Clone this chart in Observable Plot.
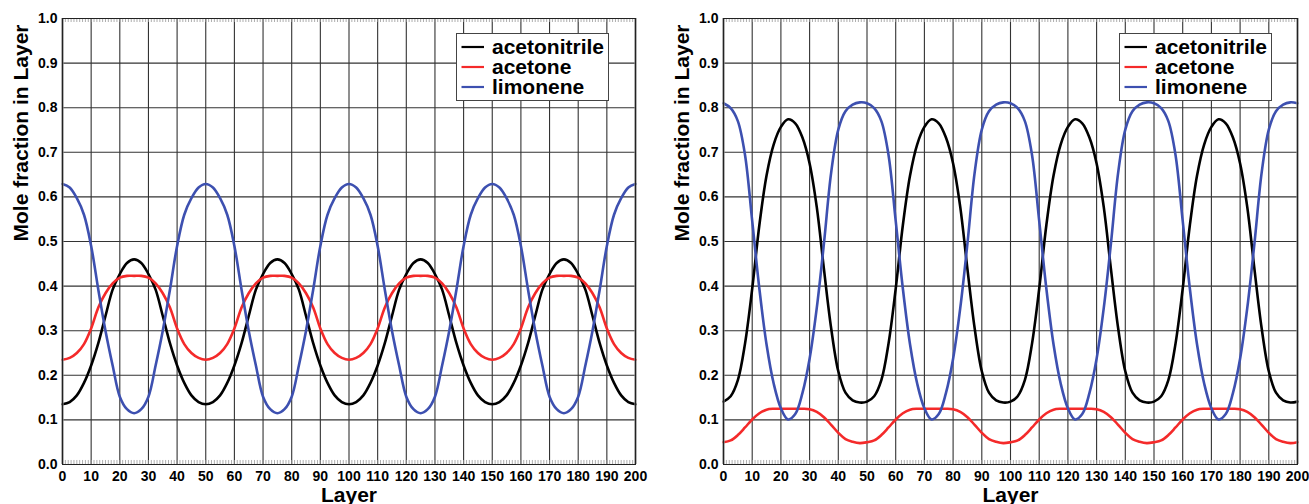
<!DOCTYPE html>
<html>
<head>
<meta charset="utf-8">
<script src="https://cdn.jsdelivr.net/npm/d3@7"></script>
<script src="https://cdn.jsdelivr.net/npm/@observablehq/plot@0.6"></script>
<style>
  html, body { margin: 0; padding: 0; background: white; }
  #wrap { position: relative; width: 1309px; height: 504px; overflow: hidden; }
  #wrap svg { position: absolute; top: 0; }
</style>
</head>
<body>
<div id="wrap"></div>
<script>
// ---- data ----
const layers = [0,2.5,5,7.5,10,12.5,15,17.5,20,22.5,25,27.5,30,32.5,35,37.5,40,42.5,45,47.5,
  50,52.5,55,57.5,60,62.5,65,67.5,70,72.5,75,77.5,80,82.5,85,87.5,90,92.5,95,97.5,
  100,102.5,105,107.5,110,112.5,115,117.5,120,122.5,125,127.5,130,132.5,135,137.5,140,142.5,145,147.5,
  150,152.5,155,157.5,160,162.5,165,167.5,170,172.5,175,177.5,180,182.5,185,187.5,190,192.5,195,197.5,200];

const xTicks = [0,10,20,30,40,50,60,70,80,90,100,110,120,130,140,150,160,170,180,190,200];
const yTicks = [0,0.1,0.2,0.3,0.4,0.5,0.6,0.7,0.8,0.9,1.0];
const seriesNames = ["acetonitrile", "acetone", "limonene"];
const seriesColors = ["#000000", "#f42a2a", "#3d50b0"];
const xLabel = "Layer";
const yLabel = "Mole fraction in Layer";

// left panel
const acetonitrileL = [0.135,0.140,0.155,0.183,0.222,0.272,0.333,0.392,0.427,0.452,0.460,0.452,0.427,0.392,0.333,0.272,0.222,0.183,0.155,0.140,
  0.135,0.140,0.155,0.183,0.222,0.272,0.333,0.392,0.427,0.452,0.460,0.452,0.427,0.392,0.333,0.272,0.222,0.183,0.155,0.140,
  0.135,0.140,0.155,0.183,0.222,0.272,0.333,0.392,0.427,0.452,0.460,0.452,0.427,0.392,0.333,0.272,0.222,0.183,0.155,0.140,
  0.135,0.140,0.155,0.183,0.222,0.272,0.333,0.392,0.427,0.452,0.460,0.452,0.427,0.392,0.333,0.272,0.222,0.183,0.155,0.140,
  0.135];
const acetoneL = [0.235,0.239,0.250,0.270,0.305,0.352,0.384,0.406,0.419,0.423,0.423,0.423,0.419,0.406,0.384,0.352,0.305,0.270,0.250,0.239,
  0.235,0.239,0.250,0.270,0.305,0.352,0.384,0.406,0.419,0.423,0.423,0.423,0.419,0.406,0.384,0.352,0.305,0.270,0.250,0.239,
  0.235,0.239,0.250,0.270,0.305,0.352,0.384,0.406,0.419,0.423,0.423,0.423,0.419,0.406,0.384,0.352,0.305,0.270,0.250,0.239,
  0.235,0.239,0.250,0.270,0.305,0.352,0.384,0.406,0.419,0.423,0.423,0.423,0.419,0.406,0.384,0.352,0.305,0.270,0.250,0.239,
  0.235];
const limoneneL = [0.629,0.621,0.597,0.560,0.490,0.392,0.300,0.222,0.152,0.124,0.115,0.124,0.152,0.222,0.300,0.392,0.490,0.560,0.597,0.621,
  0.629,0.621,0.597,0.560,0.490,0.392,0.300,0.222,0.152,0.124,0.115,0.124,0.152,0.222,0.300,0.392,0.490,0.560,0.597,0.621,
  0.629,0.621,0.597,0.560,0.490,0.392,0.300,0.222,0.152,0.124,0.115,0.124,0.152,0.222,0.300,0.392,0.490,0.560,0.597,0.621,
  0.629,0.621,0.597,0.560,0.490,0.392,0.300,0.222,0.152,0.124,0.115,0.124,0.152,0.222,0.300,0.392,0.490,0.560,0.597,0.621,
  0.629];

// right panel
const acetonitrileR = [0.141,0.153,0.189,0.271,0.394,0.537,0.648,0.718,0.757,0.774,0.765,0.733,0.675,0.577,0.438,0.306,0.209,0.161,0.144,0.139,
  0.141,0.153,0.189,0.271,0.394,0.537,0.648,0.718,0.757,0.774,0.765,0.733,0.675,0.577,0.438,0.306,0.209,0.161,0.144,0.139,
  0.141,0.153,0.189,0.271,0.394,0.537,0.648,0.718,0.757,0.774,0.765,0.733,0.675,0.577,0.438,0.306,0.209,0.161,0.144,0.139,
  0.141,0.153,0.189,0.271,0.394,0.537,0.648,0.718,0.757,0.774,0.765,0.733,0.675,0.577,0.438,0.306,0.209,0.161,0.144,0.139,
  0.141];
const acetoneR = [0.050,0.054,0.066,0.083,0.101,0.115,0.123,0.125,0.125,0.125,0.125,0.125,0.124,0.118,0.106,0.089,0.071,0.057,0.051,0.048,
  0.050,0.054,0.066,0.083,0.101,0.115,0.123,0.125,0.125,0.125,0.125,0.125,0.124,0.118,0.106,0.089,0.071,0.057,0.051,0.048,
  0.050,0.054,0.066,0.083,0.101,0.115,0.123,0.125,0.125,0.125,0.125,0.125,0.124,0.118,0.106,0.089,0.071,0.057,0.051,0.048,
  0.050,0.054,0.066,0.083,0.101,0.115,0.123,0.125,0.125,0.125,0.125,0.125,0.124,0.118,0.106,0.089,0.071,0.057,0.051,0.048,
  0.050];
const limoneneR = [0.810,0.799,0.770,0.694,0.546,0.394,0.269,0.181,0.126,0.101,0.113,0.160,0.237,0.351,0.496,0.654,0.751,0.792,0.807,0.812,
  0.810,0.799,0.770,0.694,0.546,0.394,0.269,0.181,0.126,0.101,0.113,0.160,0.237,0.351,0.496,0.654,0.751,0.792,0.807,0.812,
  0.810,0.799,0.770,0.694,0.546,0.394,0.269,0.181,0.126,0.101,0.113,0.160,0.237,0.351,0.496,0.654,0.751,0.792,0.807,0.812,
  0.810,0.799,0.770,0.694,0.546,0.394,0.269,0.181,0.126,0.101,0.113,0.160,0.237,0.351,0.496,0.654,0.751,0.792,0.807,0.812,
  0.810];

const minorTicks = d3.range(0, 201, 1);

function chart(series, width, ml, mr) {
  const rows = layers.map((L, i) => ({L, v0: series[0][i], v1: series[1][i], v2: series[2][i]}));
  const lines = series.map((s, k) =>
    Plot.line(rows, {x: "L", y: "v" + k, stroke: seriesColors[k], strokeWidth: 2.6, curve: "catmull-rom"}));
  return Plot.plot({
    width, height: 504,
    marginLeft: ml, marginRight: mr, marginTop: 18, marginBottom: 40,
    style: {fontFamily: "'Liberation Sans', Arial, Helvetica, sans-serif", fontSize: "14px", fontWeight: "bold", background: "white", color: "black", overflow: "visible"},
    x: {domain: [0, 200]},
    y: {domain: [0, 1]},
    marks: [
      Plot.ruleX(xTicks, {stroke: "#333", strokeWidth: 1.1}),
      Plot.ruleY(yTicks, {stroke: "#333", strokeWidth: 1.1}),
      Plot.ruleX(minorTicks, {y1: 1, y2: 0.991, stroke: "#999", strokeWidth: 0.8}),
      Plot.ruleX(minorTicks, {y1: 0, y2: 0.009, stroke: "#999", strokeWidth: 0.8}),
      ...lines,
      Plot.ruleX([0, 200], {stroke: "#888", strokeWidth: 2.2}),
      Plot.frame({stroke: "#222", strokeWidth: 1}),
      Plot.axisX(xTicks, {tickSize: 0, tickPadding: 7, label: null}),
      Plot.axisY(yTicks, {tickSize: 0, tickPadding: 5, tickFormat: d3.format(".1f"), label: null}),
      Plot.text([xLabel], {text: d => d, frameAnchor: "bottom", dy: 37, lineAnchor: "bottom", fontSize: 21, fontWeight: "bold"}),
      Plot.text([yLabel], {text: d => d, frameAnchor: "left", dx: -41, rotate: -90, fontSize: 21, fontWeight: "bold"})
    ]
  });
}

function addLegend(svg, x0) {
  const g = d3.select(svg).append("g").attr("text-anchor", "start");
  g.append("rect").attr("x", x0 + 0.5).attr("y", 33.5).attr("width", 152).attr("height", 67)
    .attr("fill", "white").attr("stroke", "#444").attr("stroke-width", 1);
  seriesNames.forEach((name, i) => {
    g.append("line").attr("x1", x0 + 5.5).attr("x2", x0 + 28).attr("y1", 47 + 20 * i).attr("y2", 47 + 20 * i)
      .attr("stroke", seriesColors[i]).attr("stroke-width", 2.2);
    g.append("text").attr("x", x0 + 36).attr("y", 54 + 20 * i).text(name)
      .attr("text-anchor", "start")
      .attr("font-size", 21).attr("font-weight", "bold").attr("fill", "black");
  });
}

const wrap = document.getElementById("wrap");
const left = chart([acetonitrileL, acetoneL, limoneneL], 655, 62, 20);
left.style.left = "0px";
addLegend(left, 456);
wrap.appendChild(left);

const right = chart([acetonitrileR, acetoneR, limoneneR], 649, 63, 12);
right.style.left = "660px";
addLegend(right, 459);
wrap.appendChild(right);
</script>
</body>
</html>
